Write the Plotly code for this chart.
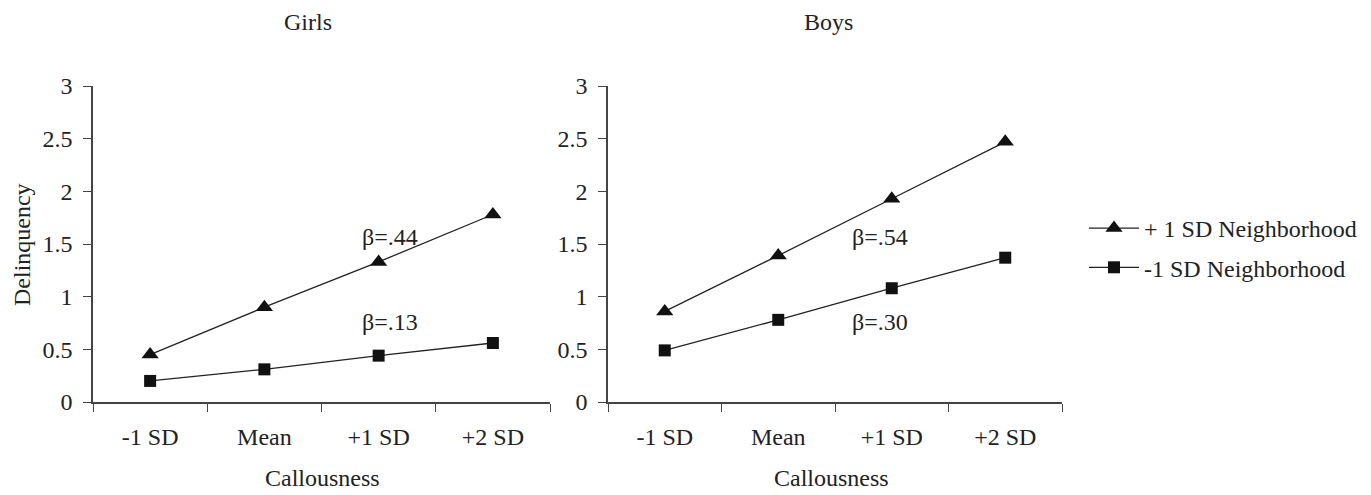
import plotly.graph_objects as go

categories = ["-1 SD", "Mean", "+1 SD", "+2 SD"]
girls_high = [0.45, 0.90, 1.33, 1.78]
girls_low = [0.20, 0.31, 0.44, 0.56]
boys_high = [0.86, 1.39, 1.93, 2.47]
boys_low = [0.49, 0.78, 1.08, 1.37]
series_names = ["+ 1 SD Neighborhood", "-1 SD Neighborhood"]
panel_titles = ["Girls", "Boys"]
y_ticks = [0, 0.5, 1, 1.5, 2, 2.5, 3]
y_tick_text = ["0", "0.5", "1", "1.5", "2", "2.5", "3"]
betas_girls = ["β=.44", "β=.13"]
betas_boys = ["β=.54", "β=.30"]

W, H = 1371, 495
OX, OY = 8, 8  # page body offset
FONT = "Liberation Serif, Times New Roman, serif"
TXT = "#222222"
LINE = "#222222"
FS = 24

fig = go.Figure()

def add_series(xaxis, yaxis, high, low, show):
    fig.add_trace(go.Scatter(
        x=categories, y=high, mode="lines+markers", name=series_names[0],
        line=dict(color=LINE, width=1.3),
        marker=dict(symbol="triangle-up", size=15, color="#111111"),
        xaxis=xaxis, yaxis=yaxis, legendgroup="hi", showlegend=show))
    fig.add_trace(go.Scatter(
        x=categories, y=low, mode="lines+markers", name=series_names[1],
        line=dict(color=LINE, width=1.3),
        marker=dict(symbol="square", size=12, color="#111111"),
        xaxis=xaxis, yaxis=yaxis, legendgroup="lo", showlegend=show))

add_series("x", "y", girls_high, girls_low, True)
add_series("x2", "y2", boys_high, boys_low, False)

px = lambda v: (v - OX) / W
py = lambda v: 1 - (v - OY) / H

xdom1 = [px(93), px(550)]
xdom2 = [px(608), px(1062)]
ydom = [py(402), py(86)]

xax = dict(type="category", categoryorder="array", categoryarray=categories,
           range=[-0.5, 3.5], showline=True, linecolor="#444444", linewidth=1.5,
           ticks="outside", ticklen=8, tickcolor="#444444", tickwidth=1.3,
           tickson="boundaries", showgrid=False, zeroline=False, automargin=False,
           tickfont=dict(family=FONT, size=FS, color=TXT), ticklabelstandoff=12)
yax = dict(range=[0, 3], tickvals=y_ticks, ticktext=y_tick_text,
           showline=True, linecolor="#444444", linewidth=1.5,
           ticks="outside", ticklen=8, tickcolor="#444444", tickwidth=1.3,
           showgrid=False, zeroline=False, automargin=False,
           tickfont=dict(family=FONT, size=FS, color=TXT), ticklabelstandoff=6)

fig.update_layout(
    template="none",
    width=W, height=H,
    margin=dict(l=0, r=0, t=0, b=0, pad=0),
    paper_bgcolor="white", plot_bgcolor="white",
    font=dict(family=FONT, size=FS, color=TXT),
    xaxis=dict(xax, domain=xdom1, anchor="y"),
    yaxis=dict(yax, domain=ydom, anchor="x"),
    xaxis2=dict(xax, domain=xdom2, anchor="y2"),
    yaxis2=dict(yax, domain=ydom, anchor="x2"),
    legend=dict(x=px(1084), y=py(206), xanchor="left", yanchor="top",
                font=dict(family=FONT, size=FS, color=TXT),
                tracegroupgap=5, itemwidth=50, bgcolor="rgba(0,0,0,0)"),
    showlegend=True,
)

def txt(text, x, y, xref="paper", yref="paper", angle=0):
    return dict(text=text, x=x, y=y, xref=xref, yref=yref, showarrow=False,
                xanchor="center", yanchor="middle", textangle=angle,
                font=dict(family=FONT, size=FS, color=TXT))

ann = [
    txt(panel_titles[0], px(308), py(22)),
    txt(panel_titles[1], px(828), py(22)),
    txt("Callousness", px(322), py(478)),
    txt("Callousness", px(832), py(478)),
    txt("Delinquency", px(22), py(245), angle=-90),
    txt(betas_girls[0], 2.1, 1.57, "x", "y"),
    txt(betas_girls[1], 2.1, 0.76, "x", "y"),
    txt(betas_boys[0], 1.9, 1.57, "x2", "y2"),
    txt(betas_boys[1], 1.9, 0.76, "x2", "y2"),
]
fig.update_layout(annotations=ann)

fig.write_html("out.html")
